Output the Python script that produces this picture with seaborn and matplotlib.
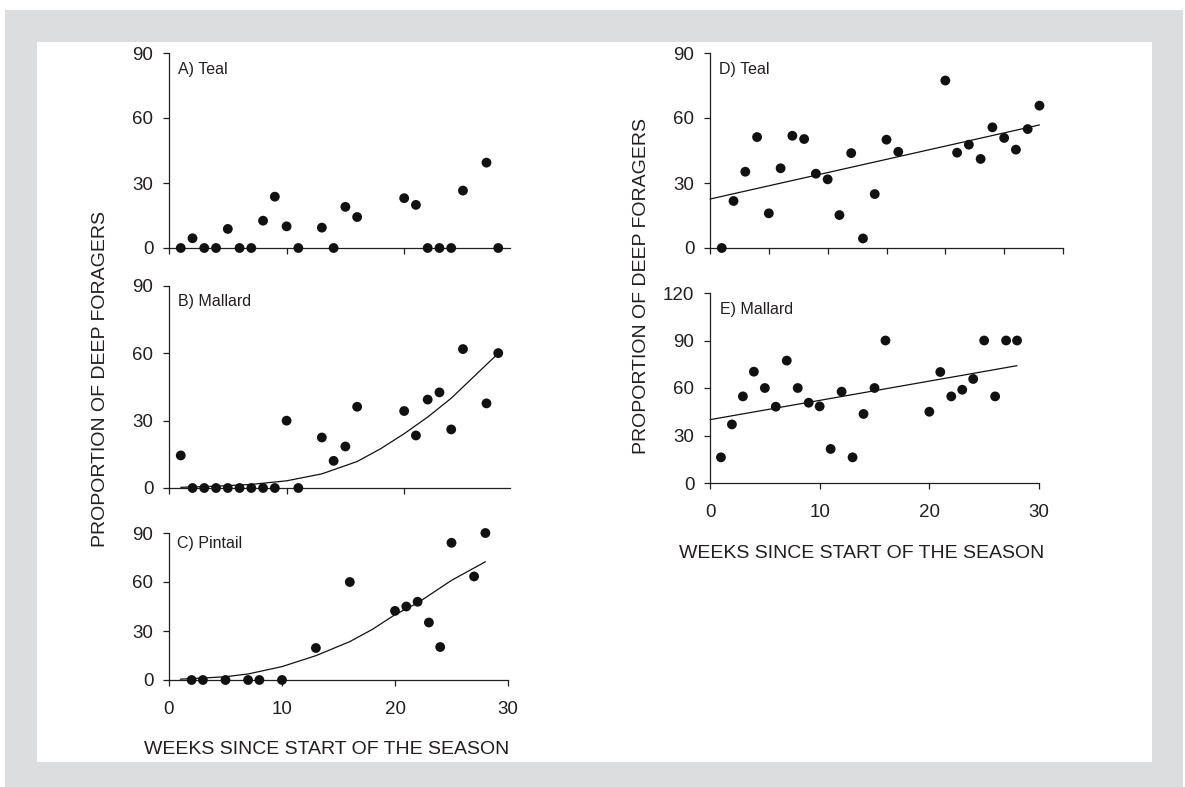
import numpy as np
import pandas as pd
import matplotlib
matplotlib.use("Agg")
import matplotlib.pyplot as plt
import matplotlib.patches as mpatches
import seaborn as sns

# ── Data ──────────────────────────────────────────────────────────────────────
teal_a_week = [1, 2, 3, 4, 5, 6, 7, 8, 9, 10, 11, 13, 14, 15, 16, 20, 21, 22, 23, 24, 25, 27, 28]
teal_a_prop = [0, 4.5, 0, 0, 8.8, 0, 0, 12.6, 23.7, 10, 0, 9.4, 0, 19, 14.3, 23, 19.9, 0, 0, 0, 26.5, 39.4, 0]

mallard_b_week = [1, 2, 3, 4, 5, 6, 7, 8, 9, 10, 11, 13, 14, 15, 16, 20, 21, 22, 23, 24, 25, 27, 28]
mallard_b_prop = [14.5, 0, 0, 0, 0, 0, 0, 0, 0, 30, 0, 22.5, 12.1, 18.5, 36.2, 34.3, 23.4, 39.4, 42.6, 26.1, 61.9, 37.7, 60.1]
mallard_b_fit_week = [1, 4, 7, 10, 13, 16, 18, 20, 22, 24, 26, 28]
mallard_b_fit_prop = [0.3, 0.8, 1.6, 3.2, 6.3, 11.8, 17.5, 24.2, 31.6, 40, 50, 60]

pintail_c_week = [2, 3, 5, 7, 8, 10, 13, 16, 20, 21, 22, 23, 24, 25, 27, 28]
pintail_c_prop = [0, 0, 0, 0, 0, 0, 19.6, 60, 42.3, 45, 47.9, 35.2, 20.2, 84, 63.4, 90]
pintail_c_fit_week = [1, 3, 5, 7, 10, 13, 16, 18, 20, 22, 25, 28]
pintail_c_fit_prop = [0.5, 1.2, 2.0, 3.7, 8.2, 14.9, 23.5, 31.0, 40, 47.2, 61, 72.4]

teal_d_week = [1, 2, 3, 4, 5, 6, 7, 8, 9, 10, 11, 12, 13, 14, 15, 16, 20, 21, 22, 23, 24, 25, 26, 27, 28]
teal_d_prop = [0, 21.7, 35.2, 51.2, 16, 36.8, 51.8, 50.3, 34.3, 31.7, 15.2, 43.8, 4.4, 24.9,
               50, 44.4, 77.3, 44, 47.7, 41.1, 55.7, 50.8, 45.4, 54.9, 65.7]
teal_d_fit_week = [0, 28]
teal_d_fit_prop = [22.6, 56.8]

mallard_e_week = [1, 2, 3, 4, 5, 6, 7, 8, 9, 10, 11, 12, 13, 14, 15, 16, 20, 21, 22, 23, 24, 25, 26, 27, 28]
mallard_e_prop = [16.2, 37, 54.7, 70.3, 60, 48.2, 77.3, 60, 50.7, 48.4, 21.5, 57.7, 16.2, 43.6,
                  60, 90, 45, 70.1, 54.7, 58.9, 65.7, 90, 54.7, 90, 90]
mallard_e_fit_week = [0, 28]
mallard_e_fit_prop = [40, 74.1]

# ── Style ─────────────────────────────────────────────────────────────────────
sns.set_theme(style="white")
plt.rcParams["font.family"] = ["Liberation Sans", "DejaVu Sans"]
INK = "#231f20"
plt.rcParams.update({
    "axes.edgecolor": INK,
    "axes.linewidth": 0.9,
    "xtick.color": INK,
    "ytick.color": INK,
    "text.color": INK,
    "xtick.major.size": 4.3,
    "ytick.major.size": 4.3,
    "xtick.major.width": 0.9,
    "ytick.major.width": 0.9,
    "xtick.major.pad": 10.5,
    "ytick.major.pad": 7,
    "xtick.bottom": True,
    "ytick.left": True,
})

W, H = 1185, 787
fig = plt.figure(figsize=(W / 100, H / 100), dpi=100)
fig.patch.set_facecolor("white")

# grey frame + white card
fig.add_artist(mpatches.Rectangle((5 / W, 0), 1178 / W, 777 / H, transform=fig.transFigure,
                                  facecolor="#dcdddf", edgecolor="none", zorder=-10))
fig.add_artist(mpatches.Rectangle((37 / W, (H - 762) / H), 1115 / W, 720 / H, transform=fig.transFigure,
                                  facecolor="white", edgecolor="none", zorder=-9))


def make_ax(x0, x1, y0, y1):
    ax = fig.add_axes([x0 / W, (H - y1) / H, (x1 - x0) / W, (y1 - y0) / H])
    ax.patch.set_alpha(0)
    sns.despine(ax=ax)
    ax.tick_params(labelsize=13.5)
    ax.set_xlabel("")
    ax.set_ylabel("")
    return ax


def dots(ax, wk, pr):
    sns.scatterplot(x=wk, y=pr, ax=ax, color="#111111", s=50, edgecolor="none", clip_on=False, zorder=3)


def fit(ax, wk, pr):
    sns.lineplot(x=wk, y=pr, ax=ax, color="#111111", linewidth=0.9, clip_on=False, zorder=2)


# A) Teal
axA = make_ax(169, 510, 53, 248)
dots(axA, teal_a_week, teal_a_prop)
axA.set_xlim(0, 29)
axA.set_ylim(0, 90)
axA.set_xticks([0, 10, 20])
axA.set_xticklabels([])
axA.set_yticks([0, 30, 60, 90])
axA.text(0.027, 0.916, "A) Teal", transform=axA.transAxes, fontsize=11.5, va="center")

# B) Mallard
axB = make_ax(169, 510, 286, 488)
dots(axB, mallard_b_week, mallard_b_prop)
fit(axB, mallard_b_fit_week, mallard_b_fit_prop)
axB.set_xlim(0, 29)
axB.set_ylim(0, 90)
axB.set_xticks([0, 10, 20])
axB.set_xticklabels([])
axB.set_yticks([0, 30, 60, 90])
axB.text(0.027, 0.922, "B) Mallard", transform=axB.transAxes, fontsize=11.5, va="center")

# C) Pintail
axC = make_ax(169, 508, 533, 680)
dots(axC, pintail_c_week, pintail_c_prop)
fit(axC, pintail_c_fit_week, pintail_c_fit_prop)
axC.set_xlim(0, 30)
axC.set_ylim(0, 90)
axC.set_xticks([0, 10, 20, 30])
axC.set_yticks([0, 30, 60, 90])
axC.text(0.025, 0.93, "C) Pintail", transform=axC.transAxes, fontsize=11.5, va="center")

# D) Teal
axD = make_ax(710, 1063, 53, 248)
dots(axD, teal_d_week, teal_d_prop)
fit(axD, teal_d_fit_week, teal_d_fit_prop)
axD.set_xlim(0, 30)
axD.set_ylim(0, 90)
axD.set_xticks([0, 5, 10, 15, 20, 25, 30])
axD.set_xticklabels([])
axD.set_yticks([0, 30, 60, 90])
axD.text(0.026, 0.916, "D) Teal", transform=axD.transAxes, fontsize=11.5, va="center")

# E) Mallard
axE = make_ax(710, 1039, 293, 483)
dots(axE, mallard_e_week, mallard_e_prop)
fit(axE, mallard_e_fit_week, mallard_e_fit_prop)
axE.set_xlim(0, 30)
axE.set_ylim(0, 120)
axE.set_xticks([0, 10, 20, 30])
axE.set_yticks([0, 30, 60, 90, 120])
axE.text(0.03, 0.914, "E) Mallard", transform=axE.transAxes, fontsize=11.5, va="center")

# axis titles
fig.text(101 / W, 1 - 379 / H, "PROPORTION OF DEEP FORAGERS", rotation=90,
         ha="center", va="center", fontsize=14)
fig.text(641 / W, 1 - 286 / H, "PROPORTION OF DEEP FORAGERS", rotation=90,
         ha="center", va="center", fontsize=14)
fig.text(327 / W, 1 - 750 / H, "WEEKS SINCE START OF THE SEASON",
         ha="center", va="center", fontsize=14)
fig.text(862 / W, 1 - 553 / H, "WEEKS SINCE START OF THE SEASON",
         ha="center", va="center", fontsize=14)

fig.savefig("out.png", dpi=100, facecolor=fig.get_facecolor())
